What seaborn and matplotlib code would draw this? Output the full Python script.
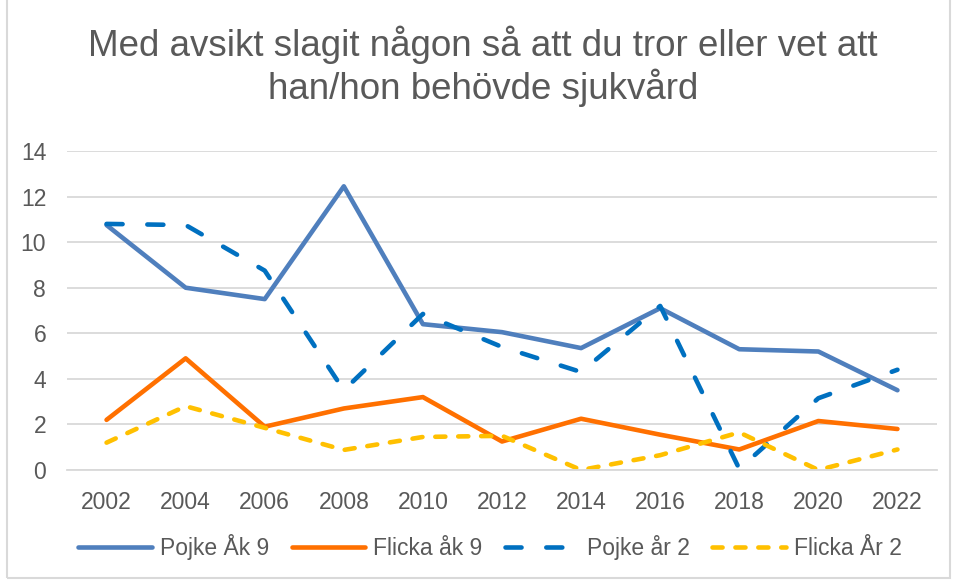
import pandas as pd
import seaborn as sns
import matplotlib.pyplot as plt
from matplotlib.patches import Rectangle

# data
years = [2002, 2004, 2006, 2008, 2010, 2012, 2014, 2016, 2018, 2020, 2022]
pojke_ak9 = [10.75, 8.0, 7.5, 12.45, 6.4, 6.05, 5.35, 7.1, 5.3, 5.2, 3.5]
flicka_ak9 = [2.2, 4.9, 1.9, 2.7, 3.2, 1.25, 2.25, 1.55, 0.9, 2.15, 1.8]
pojke_ar2 = [10.8, 10.75, 8.75, 3.5, 6.85, 5.4, 4.3, 7.2, 0.05, 3.15, 4.4]
flicka_ar2 = [1.2, 2.8, 1.85, 0.88, 1.45, 1.5, 0.0, 0.65, 1.65, 0.0, 0.9]

series = ["Pojke Åk 9", "Flicka åk 9", "Pojke år 2", "Flicka År 2"]
values = [pojke_ak9, flicka_ak9, pojke_ar2, flicka_ar2]

df = pd.DataFrame({
    "year": years * 4,
    "value": [v for vals in values for v in vals],
    "serie": [s for s in series for _ in years],
})

colors = {"Pojke Åk 9": "#4f7fbd", "Flicka åk 9": "#ff7000",
          "Pojke år 2": "#0070c0", "Flicka År 2": "#ffc000"}
dashes = {"Pojke Åk 9": "", "Flicka åk 9": "",
          "Pojke år 2": (3.5, 5.4), "Flicka År 2": (2.2, 2.8)}

sns.set_style("white")
plt.rcParams["font.family"] = ["Liberation Sans", "DejaVu Sans"]
grey = "#595959"

fig = plt.figure(figsize=(9.54, 5.81), dpi=100)
# thin chart border like the office chart area
fig.patches.append(Rectangle((7 / 954, 3 / 581), 943 / 954, 1.0, transform=fig.transFigure,
                             fill=False, edgecolor="#d9d9d9", linewidth=1.5))
ax = fig.add_axes([67 / 954, 1 - 470 / 581, (937 - 67) / 954, (470 - 151) / 581])

sns.lineplot(data=df, x="year", y="value", hue="serie", style="serie",
             palette=colors, dashes=dashes, linewidth=3.3, ax=ax)

for line in ax.get_lines():
    line.set_dash_capstyle("round")
    line.set_solid_capstyle("round")

ax.set_xlim(2001, 2023)
ax.set_ylim(0, 14)
ax.set_xticks(years)
ax.set_yticks(range(0, 15, 2))
ax.tick_params(axis="both", length=0, labelsize=16.5, colors=grey)
ax.tick_params(axis="x", pad=15)
ax.tick_params(axis="y", pad=15)
ax.yaxis.grid(True, color="#d9d9d9", linewidth=1.3)
ax.set_axisbelow(True)
for side in ["top", "right", "left"]:
    ax.spines[side].set_visible(False)
ax.spines["bottom"].set_color("#d9d9d9")
ax.spines["bottom"].set_linewidth(1.3)
ax.set_xlabel("")
ax.set_ylabel("")

fig.text(483 / 954, 1 - 66 / 581, "Med avsikt slagit någon så att du tror eller vet att\nhan/hon behövde sjukvård",
         ha="center", va="center", fontsize=26.5, color=grey, linespacing=1.15)

handles, labels = ax.get_legend_handles_labels()
for h in handles:
    h.set_dash_capstyle("round")
    h.set_solid_capstyle("round")
ax.legend(handles, labels, loc="center", bbox_to_anchor=((490 - 67) / 870, -(547 - 470) / (470 - 151)),
          ncol=4, frameon=False, fontsize=16.5, labelcolor=grey, handlelength=3.2,
          columnspacing=1.0, handletextpad=0.35)

fig.savefig("out.png", dpi=100)
